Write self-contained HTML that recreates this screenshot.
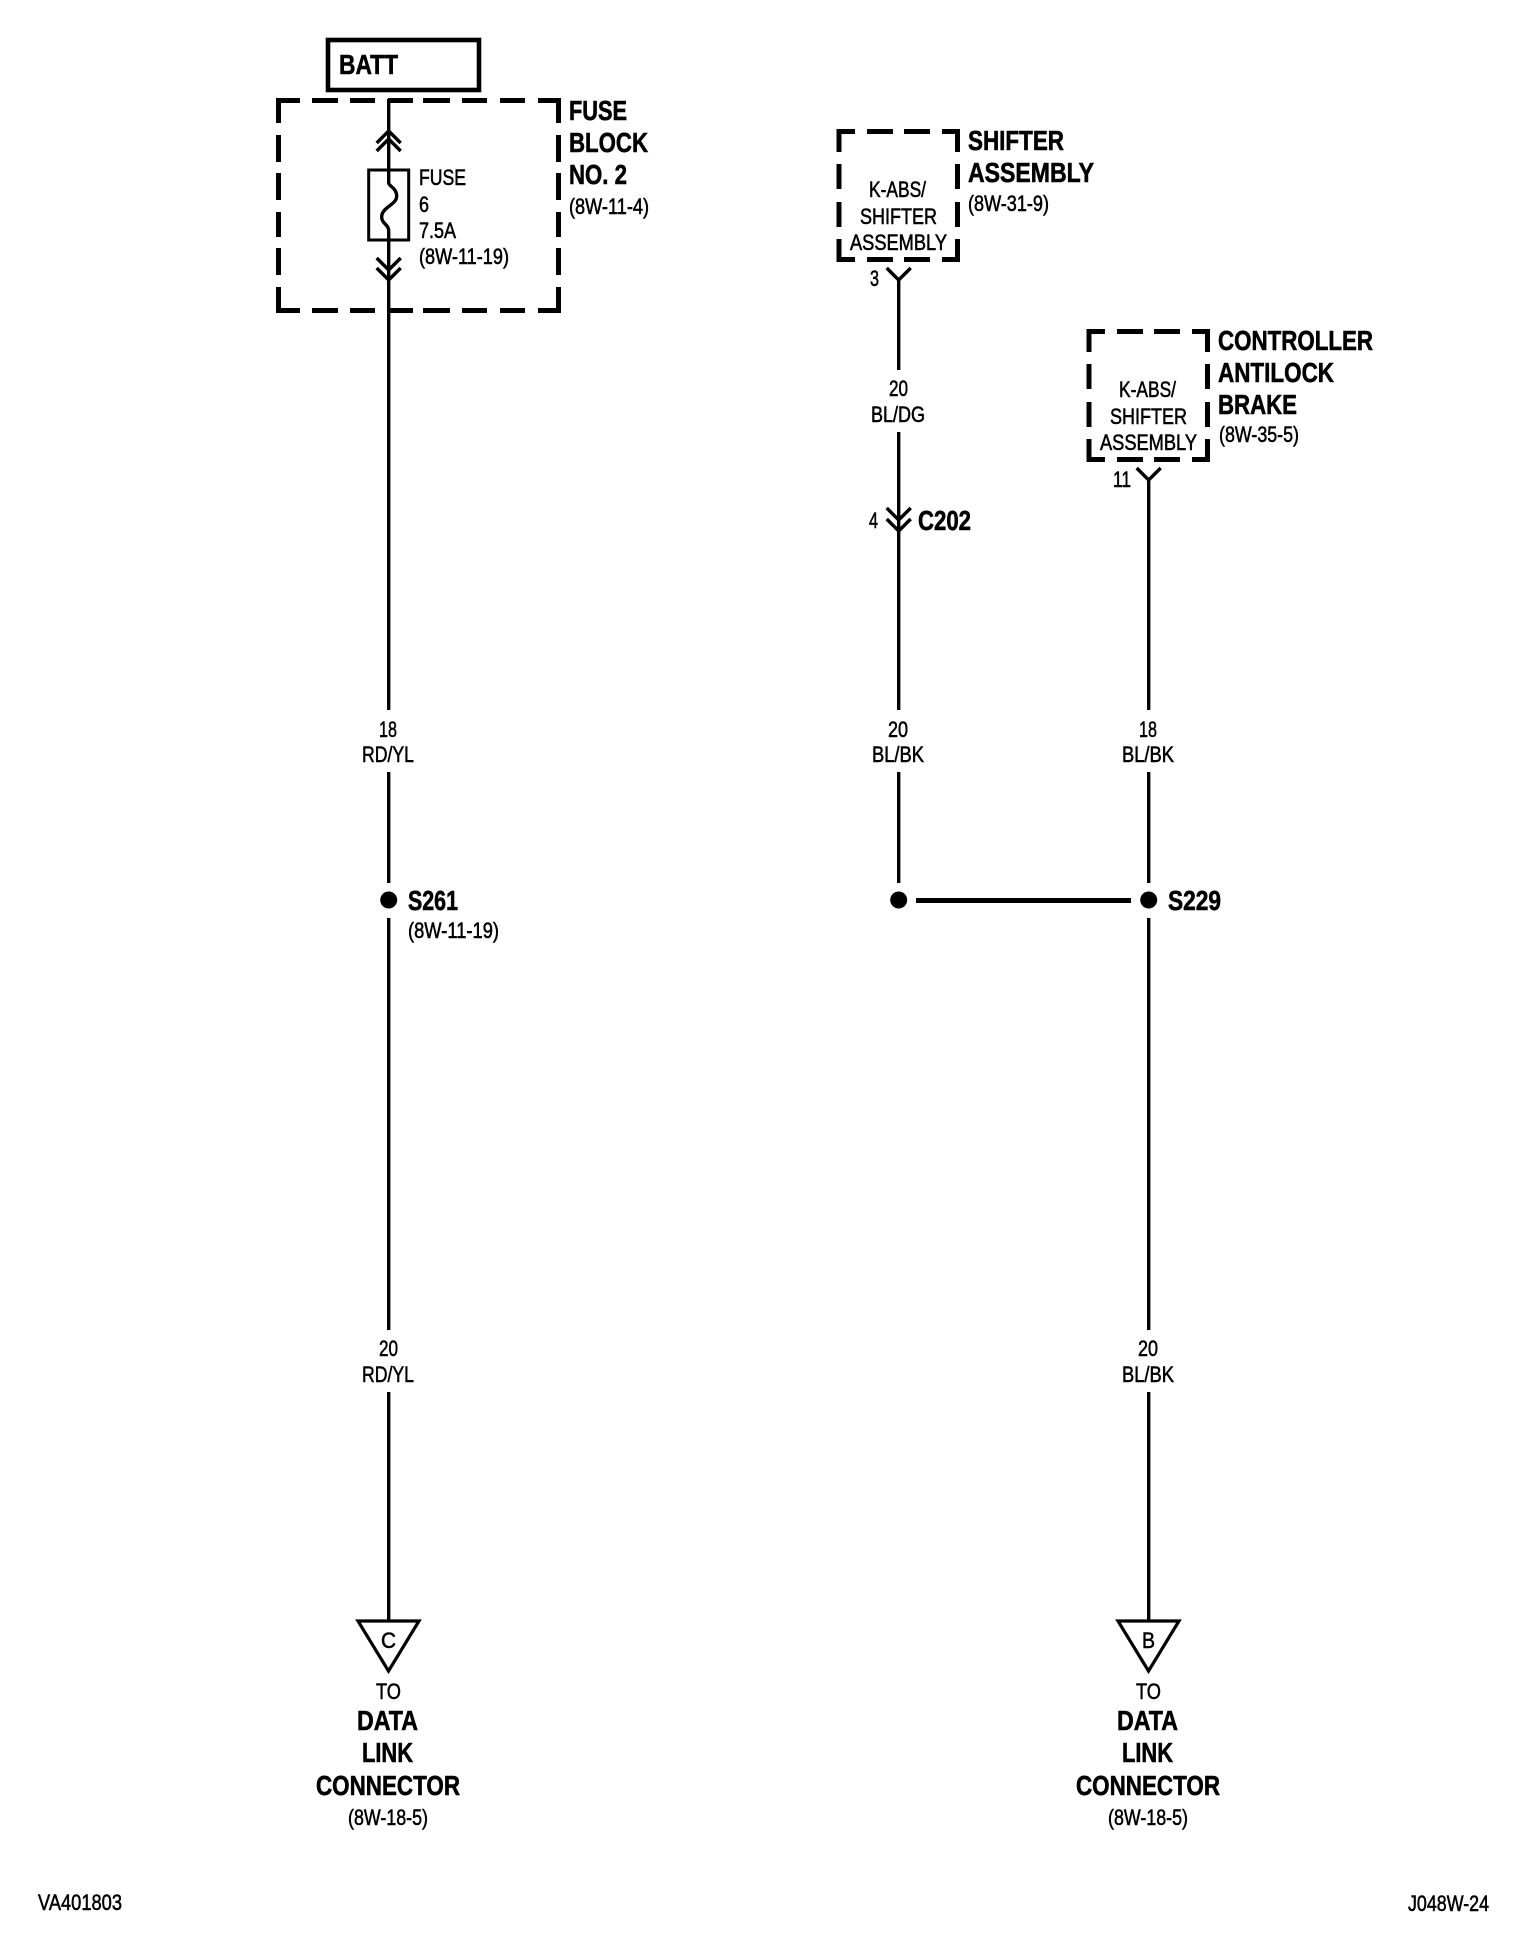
<!DOCTYPE html>
<html><head><meta charset="utf-8"><style>
html,body{margin:0;padding:0;background:#fff}
svg{display:block}
text{font-family:"Liberation Sans",Arial,sans-serif;fill:#000}
.s{font-size:22px;stroke:#000;stroke-width:.55}
.b{font-size:28px;font-weight:bold;stroke:#000;stroke-width:.6}
.w{fill:none;stroke:#000;stroke-width:3.4}
.d{fill:none;stroke:#000;stroke-width:5}
</style></head><body>
<svg width="1536" height="1946" viewBox="0 0 1536 1946" xmlns="http://www.w3.org/2000/svg">
<rect width="1536" height="1946" fill="#fff"/>

<!-- BATT -->
<rect x="328" y="40" width="151" height="50" fill="none" stroke="#000" stroke-width="4.6"/>
<text class="b" x="339" y="74" textLength="59" lengthAdjust="spacingAndGlyphs">BATT</text>

<!-- Fuse block dashed -->
<path class="d" d="M278.500 123V100.500H300M312 100.500H338M350 100.500H375M388 100.500H413M423 100.500H450M462 100.500H487M500 100.500H525M538 100.500H558.500V123
M278.500 135V162M278.500 173V200M278.500 212V237M278.500 248V275M278.500 287V310.500H300
M558.500 135V162M558.500 173V200M558.500 212V237M558.500 248V275M558.500 287V310.500H538
M312 310.500H338M350 310.500H375M388 310.500H413M423 310.500H450M462 310.500H487M500 310.500H525"/>

<!-- Left wire -->
<g transform="translate(.7,0)">
<path class="w" d="M388 99V183C388 186 396 188 396 196C396 205 381 207 381 217C381 224 388 224 388 231V710M388 772V883M388 918V1330M388 1392V1620"/>
<rect x="368" y="170" width="40" height="70" fill="none" stroke="#000" stroke-width="3"/>
<path class="w" d="M376 143L388 131L400 143M376 151L388 139L400 151M376 258L388 270L400 258M376 268L388 280L400 268"/>
<circle cx="388" cy="900" r="8.500"/>
</g>
<text class="s" x="419" y="185" textLength="47" lengthAdjust="spacingAndGlyphs">FUSE</text>
<text class="s" x="419" y="212" textLength="10" lengthAdjust="spacingAndGlyphs">6</text>
<text class="s" x="419" y="238" textLength="37" lengthAdjust="spacingAndGlyphs">7.5A</text>
<text class="s" x="419" y="264" textLength="90" lengthAdjust="spacingAndGlyphs">(8W-11-19)</text>
<text class="b" x="569" y="120" textLength="58" lengthAdjust="spacingAndGlyphs">FUSE</text>
<text class="b" x="569" y="152" textLength="79" lengthAdjust="spacingAndGlyphs">BLOCK</text>
<text class="b" x="569" y="184" textLength="58" lengthAdjust="spacingAndGlyphs">NO. 2</text>
<text class="s" x="569" y="214" textLength="80" lengthAdjust="spacingAndGlyphs">(8W-11-4)</text>

<text class="s" x="379" y="737" textLength="18" lengthAdjust="spacingAndGlyphs">18</text>
<text class="s" x="362" y="762" textLength="52" lengthAdjust="spacingAndGlyphs">RD/YL</text>
<text class="b" x="408" y="910" textLength="50" lengthAdjust="spacingAndGlyphs">S261</text>
<text class="s" x="408" y="938" textLength="91" lengthAdjust="spacingAndGlyphs">(8W-11-19)</text>
<text class="s" x="379" y="1356" textLength="19" lengthAdjust="spacingAndGlyphs">20</text>
<text class="s" x="362" y="1382" textLength="52" lengthAdjust="spacingAndGlyphs">RD/YL</text>

<path d="M358 1621H419L388.500 1671Z" fill="none" stroke="#000" stroke-width="3.200"/>
<text class="s" x="381" y="1648" textLength="15" lengthAdjust="spacingAndGlyphs">C</text>
<text class="s" x="376" y="1699" textLength="25" lengthAdjust="spacingAndGlyphs">TO</text>
<text class="b" x="357" y="1730" textLength="61" lengthAdjust="spacingAndGlyphs">DATA</text>
<text class="b" x="362" y="1762" textLength="51" lengthAdjust="spacingAndGlyphs">LINK</text>
<text class="b" x="316" y="1795" textLength="144" lengthAdjust="spacingAndGlyphs">CONNECTOR</text>
<text class="s" x="348" y="1825" textLength="80" lengthAdjust="spacingAndGlyphs">(8W-18-5)</text>

<!-- Shifter box -->
<path class="d" d="M839 152V131.500H855M867 131.500H893M904 131.500H930M942 131.500H957.500V152
M839 164V189M839 202V227M839 239V259.500H855M867 259.500H893M904 259.500H930M942 259.500H957.500V239
M957.500 164V189M957.500 202V227"/>
<text class="s" x="869" y="197" textLength="57" lengthAdjust="spacingAndGlyphs">K-ABS/</text>
<text class="s" x="860" y="224" textLength="77" lengthAdjust="spacingAndGlyphs">SHIFTER</text>
<text class="s" x="850" y="250" textLength="97" lengthAdjust="spacingAndGlyphs">ASSEMBLY</text>
<text class="b" x="968" y="150" textLength="96" lengthAdjust="spacingAndGlyphs">SHIFTER</text>
<text class="b" x="968" y="182" textLength="126" lengthAdjust="spacingAndGlyphs">ASSEMBLY</text>
<text class="s" x="968" y="211" textLength="81" lengthAdjust="spacingAndGlyphs">(8W-31-9)</text>
<text class="s" x="870" y="286" textLength="9" lengthAdjust="spacingAndGlyphs">3</text>

<!-- Middle wire -->
<g transform="translate(.7,0)">
<path class="w" d="M886 268L898 280L910 268M898 280V370M898 432V710M898 772V883M886 508L898 520L910 508M886 519L898 531L910 519"/>
<circle cx="898" cy="900" r="8.500"/>
</g>
<text class="s" x="889" y="396" textLength="19" lengthAdjust="spacingAndGlyphs">20</text>
<text class="s" x="871" y="422" textLength="54" lengthAdjust="spacingAndGlyphs">BL/DG</text>
<text class="s" x="869" y="528" textLength="9" lengthAdjust="spacingAndGlyphs">4</text>
<text class="b" x="918" y="530" textLength="53" lengthAdjust="spacingAndGlyphs">C202</text>
<text class="s" x="888" y="737" textLength="20" lengthAdjust="spacingAndGlyphs">20</text>
<text class="s" x="872" y="762" textLength="52" lengthAdjust="spacingAndGlyphs">BL/BK</text>
<path d="M916 900.500H1131" fill="none" stroke="#000" stroke-width="5"/>

<!-- Controller box -->
<path class="d" d="M1089 352V331.500H1105M1117 331.500H1143M1154 331.500H1180M1192 331.500H1207.500V352
M1089 364V389M1089 402V427M1089 439V459.500H1105M1117 459.500H1143M1154 459.500H1180M1192 459.500H1207.500V439
M1207.500 364V389M1207.500 402V427"/>
<text class="s" x="1119" y="397" textLength="57" lengthAdjust="spacingAndGlyphs">K-ABS/</text>
<text class="s" x="1110" y="424" textLength="77" lengthAdjust="spacingAndGlyphs">SHIFTER</text>
<text class="s" x="1100" y="450" textLength="97" lengthAdjust="spacingAndGlyphs">ASSEMBLY</text>
<text class="b" x="1218" y="350" textLength="155" lengthAdjust="spacingAndGlyphs">CONTROLLER</text>
<text class="b" x="1218" y="382" textLength="116" lengthAdjust="spacingAndGlyphs">ANTILOCK</text>
<text class="b" x="1218" y="414" textLength="79" lengthAdjust="spacingAndGlyphs">BRAKE</text>
<text class="s" x="1219" y="442" textLength="80" lengthAdjust="spacingAndGlyphs">(8W-35-5)</text>
<text class="s" x="1113" y="487" textLength="18" lengthAdjust="spacingAndGlyphs">11</text>

<!-- Right wire -->
<g transform="translate(.7,0)">
<path class="w" d="M1136 468L1148 480L1160 468M1148 480V710M1148 772V883M1148 918V1330M1148 1392V1620"/>
<circle cx="1148" cy="900" r="8.500"/>
</g>
<text class="s" x="1139" y="737" textLength="18" lengthAdjust="spacingAndGlyphs">18</text>
<text class="s" x="1122" y="762" textLength="52" lengthAdjust="spacingAndGlyphs">BL/BK</text>
<text class="b" x="1168" y="910" textLength="53" lengthAdjust="spacingAndGlyphs">S229</text>
<text class="s" x="1138" y="1356" textLength="20" lengthAdjust="spacingAndGlyphs">20</text>
<text class="s" x="1122" y="1382" textLength="52" lengthAdjust="spacingAndGlyphs">BL/BK</text>

<path d="M1118 1621H1179L1148.500 1671Z" fill="none" stroke="#000" stroke-width="3.200"/>
<text class="s" x="1142" y="1648" textLength="13" lengthAdjust="spacingAndGlyphs">B</text>
<text class="s" x="1136" y="1699" textLength="25" lengthAdjust="spacingAndGlyphs">TO</text>
<text class="b" x="1117" y="1730" textLength="61" lengthAdjust="spacingAndGlyphs">DATA</text>
<text class="b" x="1122" y="1762" textLength="51" lengthAdjust="spacingAndGlyphs">LINK</text>
<text class="b" x="1076" y="1795" textLength="144" lengthAdjust="spacingAndGlyphs">CONNECTOR</text>
<text class="s" x="1108" y="1825" textLength="80" lengthAdjust="spacingAndGlyphs">(8W-18-5)</text>

<!-- Footer -->
<text class="s" x="38" y="1910" textLength="84" lengthAdjust="spacingAndGlyphs">VA401803</text>
<text class="s" x="1408" y="1911" textLength="81" lengthAdjust="spacingAndGlyphs">J048W-24</text>
</svg>
</body></html>
